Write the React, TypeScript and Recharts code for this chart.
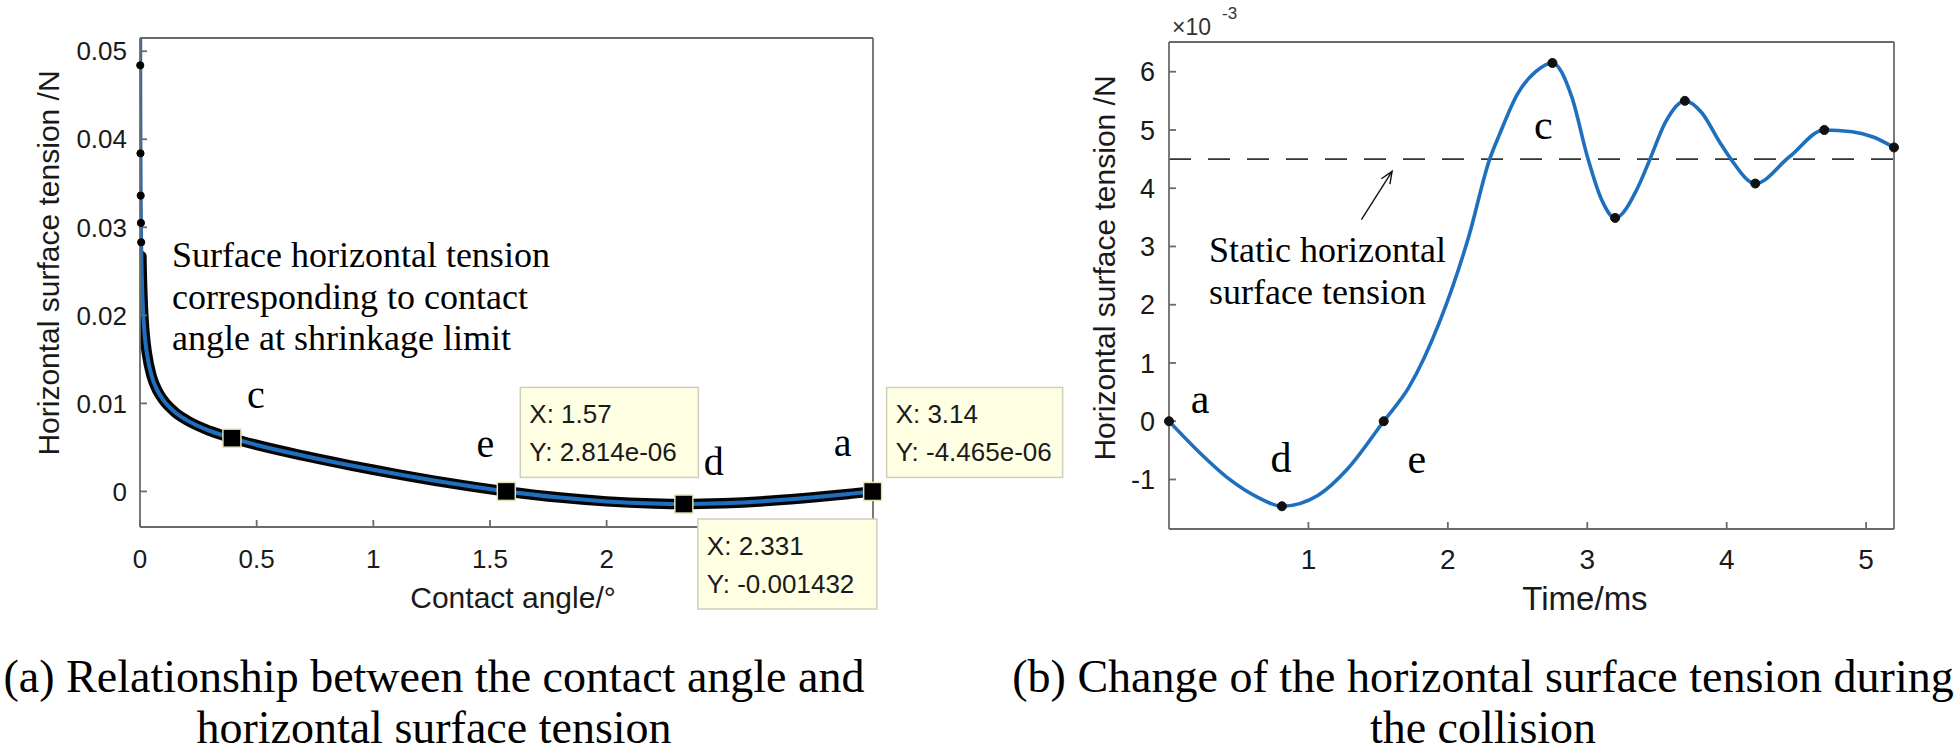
import { ComposedChart, Line, XAxis, YAxis, ReferenceDot, ReferenceLine } from 'recharts';

const SANS = '"Liberation Sans", Arial, Helvetica, sans-serif';
const SERIF = '"Liberation Serif", "Times New Roman", Times, serif';
const BLUE = '#1f6fbf';
const AXIS = '#6b6b6b';
const INK = '#1a1a1a';

// (a) contact angle (rad) vs horizontal surface tension (N)
const contactAngle = [
  0.0005, 0.001, 0.002, 0.003, 0.004, 0.005, 0.006, 0.007, 0.008, 0.009, 0.01, 0.015, 0.02, 0.03,
  0.05, 0.075, 0.1, 0.15, 0.2, 0.3, 0.394, 0.5, 0.7, 0.9, 1.0, 1.1, 1.3, 1.57, 1.8, 2.0, 2.2,
  2.331, 2.5, 2.7, 2.9, 3.05, 3.14,
];
const angleTension = [
  0.061, 0.0484, 0.0384, 0.0336, 0.0305, 0.0283, 0.0267, 0.0253, 0.0242, 0.0233, 0.0225, 0.0196,
  0.0178, 0.0156, 0.0131, 0.01144, 0.01038, 0.009, 0.0081, 0.00687, 0.00605, 0.00528, 0.00406,
  0.00297, 0.00246, 0.00197, 0.00106, 0.0000028, -0.0007, -0.00113, -0.00137, -0.001432, -0.00134,
  -0.00107, -0.00064, -0.00025, -0.0000045,
];
const angleTicks = [0, 0.5, 1, 1.5, 2, 2.5, 3];
const tensionTicks = [0, 0.01, 0.02, 0.03, 0.04, 0.05];

// marked points on curve (a)
const markLetter = ['c', 'e', 'd', 'a'];
const markAngle = [0.394, 1.57, 2.331, 3.14];
const markTension = [0.00605, 2.814e-6, -0.001432, -4.465e-6];
const tipX = ['', '1.57', '2.331', '3.14'];
const tipY = ['', '2.814e-06', '-0.001432', '-4.465e-06'];

// (b) time (ms) vs horizontal surface tension (x10^-3 N)
const time = [
  0, 0.22, 0.43, 0.64, 0.81, 1.07, 1.28, 1.54, 1.72, 1.94, 2.15, 2.3, 2.37, 2.5, 2.63, 2.75, 2.89,
  3.0, 3.1, 3.2, 3.36, 3.45, 3.56, 3.7, 3.82, 3.95, 4.03, 4.205, 4.45, 4.7, 4.9, 5.05, 5.2,
];
const timeTension = [
  0, -0.54, -0.99, -1.31, -1.46, -1.27, -0.82, 0, 0.58, 1.7, 3.17, 4.5, 4.92, 5.62, 6.0, 6.15, 5.56,
  4.55, 3.82, 3.49, 4.0, 4.5, 5.13, 5.5, 5.3, 4.79, 4.5, 4.08, 4.54, 5.0, 4.97, 4.88, 4.7,
];
const keyTime = [0, 0.81, 1.54, 2.75, 3.2, 3.7, 4.205, 4.7, 5.2];
const keyTension = [0, -1.46, 0, 6.15, 3.49, 5.5, 4.08, 5.0, 4.7];
const keyLetter = ['a', 'd', 'e', 'c', '', '', '', '', ''];
const staticTension = 4.5;
const timeTicks = [1, 2, 3, 4, 5];
const timeTensionTicks = [-1, 0, 1, 2, 3, 4, 5, 6];

// label offsets (px) from the marked point
const markOffset: Record<string, [number, number]> = { c: [24, -30], e: [-21, -34], d: [30, -29], a: [-30, -35] };
const tipOffset: Record<string, [number, number, number]> = { e: [14, -104, 178], d: [14, 15, 179], a: [14, -104, 176] };
const keyOffset: Record<string, [number, number]> = { a: [31, -8], d: [-1, -34], e: [33, 52], c: [-9, 76] };

const curveA = contactAngle.map((x, i) => ({ x, y: angleTension[i] }));
const bandA = curveA.slice(6);
const dotsA = curveA.slice(1, 6);
const curveB = time.map((x, i) => ({ x, y: timeTension[i] }));
const dotsB = keyTime.map((x, i) => ({ x, y: keyTension[i] }));

const axisLine = { stroke: AXIS, strokeWidth: 1.8 };
const tickStyle = (size: number) => ({ fill: INK, fontSize: size, fontFamily: SANS });

function MarkA(props: any) {
  const { cx, cy, letter, index } = props;
  const [lx, ly] = markOffset[letter];
  const tip = tipOffset[letter];
  return (
    <g>
      {tip && (
        <g>
          <rect x={cx + tip[0]} y={cy + tip[1]} width={tip[2]} height={90} fill="#ffffe3" stroke="#cfcfbe" strokeWidth={1.5} />
          <text x={cx + tip[0] + 9} y={cy + tip[1] + 36} fontFamily={SANS} fontSize={26} fill={INK}>{`X: ${tipX[index]}`}</text>
          <text x={cx + tip[0] + 9} y={cy + tip[1] + 74} fontFamily={SANS} fontSize={26} fill={INK}>{`Y: ${tipY[index]}`}</text>
        </g>
      )}
      <rect x={cx - 9} y={cy - 9} width={18} height={18} fill="#000" stroke="#e6e2b4" strokeWidth={1.5} />
      <text x={cx + lx} y={cy + ly} textAnchor="middle" fontFamily={SERIF} fontSize={40} fill="#000">{letter}</text>
    </g>
  );
}

function LetterB(props: any) {
  const { cx, cy, letter } = props;
  const [lx, ly] = keyOffset[letter];
  return (
    <text x={cx + lx} y={cy + ly} textAnchor="middle" fontFamily={SERIF} fontSize={42} fill="#000">{letter}</text>
  );
}

function Arrow(props: any) {
  const { x1, y1, x2, y2 } = props;
  const a = Math.atan2(y2 - y1, x2 - x1);
  const len = 13;
  const p1 = [x2 - len * Math.cos(a - 0.4), y2 - len * Math.sin(a - 0.4)];
  const p2 = [x2 - len * Math.cos(a + 0.4), y2 - len * Math.sin(a + 0.4)];
  return (
    <g stroke="#111" strokeWidth={1.4} fill="none">
      <line x1={x1} y1={y1} x2={x2} y2={y2} />
      <polyline points={`${p1[0]},${p1[1]} ${x2},${y2} ${p2[0]},${p2[1]}`} />
    </g>
  );
}

function ContactAngleChart() {
  return (
    <ComposedChart width={1100} height={640} margin={{ top: 37, right: 226, bottom: 53, left: 0 }}>
      <XAxis
        type="number" dataKey="x" domain={[0, 3.1416]} allowDataOverflow ticks={angleTicks}
        tickFormatter={(v: number) => (v > 2 ? '' : String(v))}
        height={60} tickSize={-7} tickMargin={30} axisLine={axisLine} tickLine={axisLine} tick={tickStyle(26)}
      />
      <XAxis
        xAxisId="top" orientation="top" type="number" dataKey="x" domain={[0, 3.1416]} allowDataOverflow
        ticks={angleTicks} height={1} tickSize={-7} tick={false} axisLine={axisLine} tickLine={axisLine}
      />
      <YAxis
        type="number" dataKey="y" domain={[-0.00404, 0.0515]} allowDataOverflow ticks={tensionTicks}
        tickFormatter={(v: number) => (v === 0 ? '0' : v.toFixed(2))}
        width={140} tickSize={-7} tickMargin={20} axisLine={axisLine} tickLine={axisLine} tick={tickStyle(26)}
      />
      <YAxis
        yAxisId="right" orientation="right" type="number" domain={[-0.00404, 0.0515]} allowDataOverflow
        ticks={tensionTicks} width={1} tickSize={-7} tick={false} axisLine={axisLine} tickLine={axisLine}
      />
      <Line data={bandA} dataKey="y" type="monotone" stroke="#050505" strokeWidth={10.5} strokeLinecap="round" dot={false} activeDot={false} isAnimationActive={false} />
      <Line data={curveA} dataKey="y" type="monotone" stroke={BLUE} strokeWidth={4} dot={false} activeDot={false} isAnimationActive={false} />
      <Line data={dotsA} dataKey="y" stroke="none" dot={{ r: 3.6, fill: '#000', stroke: '#000', clipDot: false }} activeDot={false} isAnimationActive={false} />
      {markAngle.map((x, i) => (
        <ReferenceDot key={markLetter[i]} x={x} y={markTension[i]} r={9}
          shape={(p: any) => <MarkA {...p} letter={markLetter[i]} index={i} />} />
      ))}
    </ComposedChart>
  );
}

function CollisionChart() {
  return (
    <ComposedChart width={900} height={640} margin={{ top: 41, right: 65, bottom: 51, left: 0 }}>
      <XAxis
        type="number" dataKey="x" domain={[0, 5.2]} allowDataOverflow ticks={timeTicks}
        height={60} tickSize={-7} tickMargin={27} axisLine={axisLine} tickLine={axisLine} tick={tickStyle(28)}
      />
      <XAxis
        xAxisId="top" orientation="top" type="number" dataKey="x" domain={[0, 5.2]} allowDataOverflow
        ticks={timeTicks} height={1} tickSize={-7} tick={false} axisLine={axisLine} tickLine={axisLine}
      />
      <YAxis
        type="number" dataKey="y" domain={[-1.85, 6.51]} allowDataOverflow ticks={timeTensionTicks}
        width={109} tickSize={-7} tickMargin={21} axisLine={axisLine} tickLine={axisLine} tick={tickStyle(27)}
      />
      <YAxis
        yAxisId="right" orientation="right" type="number" domain={[-1.85, 6.51]} allowDataOverflow
        ticks={timeTensionTicks} width={1} tickSize={-7} tick={false} axisLine={axisLine} tickLine={axisLine}
      />
      <ReferenceLine y={staticTension} stroke="#333" strokeWidth={1.6} strokeDasharray="22 17" />
      <ReferenceLine
        segment={[{ x: 1.38, y: 3.46 }, { x: 1.6, y: 4.29 }]}
        shape={(p: any) => <Arrow {...p} />}
      />
      <Line data={curveB} dataKey="y" type="monotone" stroke={BLUE} strokeWidth={3.6} dot={false} activeDot={false} isAnimationActive={false} />
      <Line data={dotsB} dataKey="y" stroke="none" dot={{ r: 4.5, fill: '#111', stroke: '#111', clipDot: false }} activeDot={false} isAnimationActive={false} />
      {keyTime.map((x, i) =>
        keyLetter[i] ? (
          <ReferenceDot key={keyLetter[i]} x={x} y={keyTension[i]} r={1}
            shape={(p: any) => <LetterB {...p} letter={keyLetter[i]} />} />
        ) : null
      )}
    </ComposedChart>
  );
}

export default function App() {
  return (
    <div style={{ position: 'absolute', left: 0, top: 0, width: 1960, height: 756, background: '#fff', overflow: 'hidden' }}>
      <svg width={1960} height={756} style={{ position: 'absolute', left: 0, top: 0 }}>
        <text transform="translate(48, 263) rotate(-90)" textAnchor="middle" dominantBaseline="central" fontFamily={SANS} fontSize={30} fill={INK}>
          Horizontal surface tension /N
        </text>
        <text x={513} y={608} textAnchor="middle" fontFamily={SANS} fontSize={30} fill={INK}>Contact angle/°</text>
        <g fontFamily={SERIF} fontSize={36} fill="#000">
          <text x={172} y={267}>Surface horizontal tension</text>
          <text x={172} y={309}>corresponding to contact</text>
          <text x={172} y={350}>angle at shrinkage limit</text>
        </g>
        <text transform="translate(1104, 268) rotate(-90)" textAnchor="middle" dominantBaseline="central" fontFamily={SANS} fontSize={30} fill={INK}>
          Horizontal surface tension /N
        </text>
        <text x={1585} y={610} textAnchor="middle" fontFamily={SANS} fontSize={33} fill={INK}>Time/ms</text>
        <text x={1172} y={35} fontFamily={SANS} fontSize={23} fill="#333">×10</text>
        <text x={1222} y={19} fontFamily={SANS} fontSize={17} fill="#333">-3</text>
        <g fontFamily={SERIF} fontSize={46} fill="#000" textAnchor="middle">
          <text x={1209} y={262} fontSize={36} textAnchor="start">Static horizontal</text>
          <text x={1209} y={304} fontSize={36} textAnchor="start">surface tension</text>
          <text x={434} y={692}>(a) Relationship between the contact angle and</text>
          <text x={434} y={743}>horizontal surface tension</text>
          <text x={1483} y={692}>(b) Change of the horizontal surface tension during</text>
          <text x={1483} y={743}>the collision</text>
        </g>
      </svg>
      <div style={{ position: 'absolute', left: 0, top: 0 }}>
        <ContactAngleChart />
      </div>
      <div style={{ position: 'absolute', left: 1060, top: 0 }}>
        <CollisionChart />
      </div>
    </div>
  );
}
